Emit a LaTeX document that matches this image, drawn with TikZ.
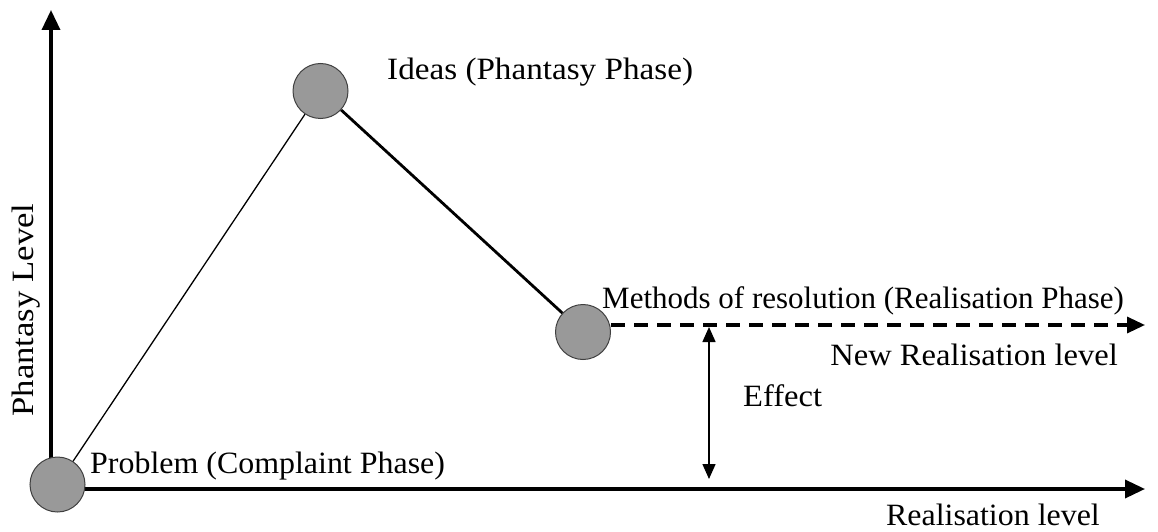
\documentclass[tikz,border=0pt]{standalone}
\usepackage{fontspec}
\setmainfont{Liberation Serif}
\usetikzlibrary{arrows.meta}
\begin{document}
\begin{tikzpicture}[x=1pt,y=-1pt,
  phase/.style={circle,fill=black!40,draw=black!75,line width=1pt,minimum size=55pt,inner sep=0pt},
  lbl/.style={inner sep=0pt,font=\fontsize{31}{34}\selectfont},
  sx/.style={transform shape,xscale=#1},
  axis/.style={line width=3.5pt,-{Triangle[width=18pt,length=20pt]}},
  effect/.style={line width=1.5pt,{Triangle[width=13pt,length=15pt]}-{Triangle[width=13pt,length=15pt]}}]
\useasboundingbox (0,0) rectangle (1158,532);
\coordinate (o) at (51,489);
\coordinate (ytop) at (51,10);
\coordinate (xend) at (1145,489);
\coordinate (dend) at (1145,325);
\coordinate (e1) at (709,327);
\coordinate (e2) at (709,479);
\draw[axis] (o) -- (ytop);
\draw[axis] (o) -- (xend);
\node[phase] (p) at (57.5,484.5) {};
\node[phase] (i) at (320.5,91) {};
\node[phase] (m) at (583,332) {};
\draw[line width=1.3pt] (p) -- (i);
\draw[line width=2.8pt] (i) -- (m);
\draw[line width=3.3pt,dash pattern=on 14pt off 9pt,-{Triangle[width=16pt,length=18pt]}] (m.east |- dend) -- (dend);
\draw[effect] (e1) -- (e2);
\node[lbl,anchor=base west,sx=1.07] (li) at (387,80) {Ideas (Phantasy Phase)};
\node[lbl,anchor=base west] (lm) at (602,308) {Methods of resolution (Realisation Phase)};
\node[lbl,anchor=base east,sx=1.05] (ln) at (1118,365) {New Realisation level};
\node[lbl,anchor=base west,sx=1.05] (le) at (743,406) {Effect};
\node[lbl,anchor=base west,sx=1.03] (lp) at (90,473) {Problem (Complaint Phase)};
\node[lbl,anchor=base east,sx=1.03] (lr) at (1100,525) {Realisation level};
\node[lbl,anchor=base,rotate=90,sx=1.12] (ly) at (33,310) {Phantasy Level};
\end{tikzpicture}
\end{document}
